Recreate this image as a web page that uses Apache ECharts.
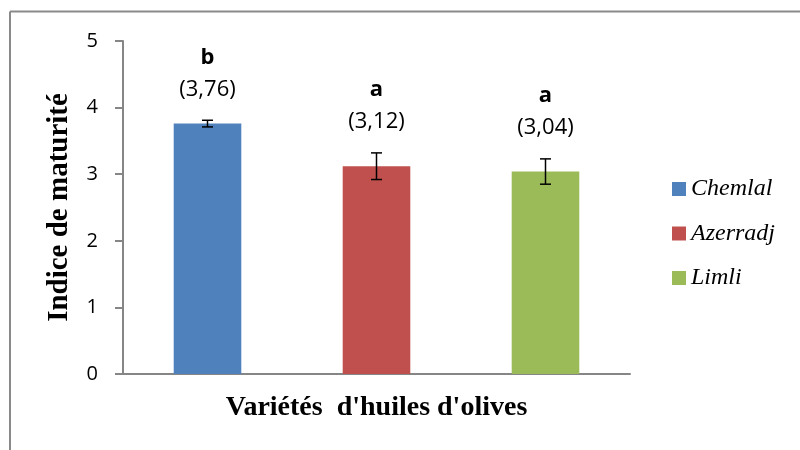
<!DOCTYPE html>
<html>
<head>
<meta charset="utf-8">
<script src="https://cdn.jsdelivr.net/npm/echarts@6/dist/echarts.min.js"></script>
<style>html,body{margin:0;padding:0;background:#fff}#c{width:800px;height:450px}</style>
</head>
<body>
<div id="c"></div>
<script>
const categories = ['Chemlal', 'Azerradj', 'Limli'];
const values = [3.76, 3.12, 3.04];
const errors = [0.05, 0.2, 0.19];
const letters = ['b', 'a', 'a'];
const valueLabels = ['(3,76)', '(3,12)', '(3,04)'];
const colors = ['#4F81BD', '#C0504D', '#9BBB59'];
const yTicks = [0, 1, 2, 3, 4, 5];

const serif = "Liberation Serif";
const sans = "Open Sans";

const chart = echarts.init(document.getElementById('c'));

const barSeries = categories.map((name, i) => ({
  name: name,
  type: 'bar',
  stack: 'all',
  barWidth: '40%',
  itemStyle: { color: colors[i] },
  data: categories.map((_, j) => j === i ? values[j] : '-'),
  z: 2
}));

const errSeries = {
  type: 'custom',
  silent: true,
  z: 5,
  data: values.map((v, i) => [i, v, errors[i]]),
  renderItem: function (params, api) {
    const i = api.value(0);
    const v = api.value(1);
    const e = api.value(2);
    const top = api.coord([i, v + e]);
    const bot = api.coord([i, v - e]);
    const hw = 5.5;
    const st = { stroke: '#000', lineWidth: 1.5 };
    return {
      type: 'group',
      children: [
        { type: 'line', shape: { x1: top[0], y1: top[1], x2: bot[0], y2: bot[1] }, style: st },
        { type: 'line', shape: { x1: top[0] - hw, y1: top[1], x2: top[0] + hw, y2: top[1] }, style: st },
        { type: 'line', shape: { x1: bot[0] - hw, y1: bot[1], x2: bot[0] + hw, y2: bot[1] }, style: st },
        { type: 'text', x: top[0], y: top[1] - 31, style: { text: valueLabels[i], font: '22px "Open Sans"', fill: '#000', align: 'center', verticalAlign: 'middle' } },
        { type: 'text', x: top[0], y: top[1] - 63, style: { text: letters[i], font: 'bold 22px "Open Sans"', fill: '#000', align: 'center', verticalAlign: 'middle' } }
      ]
    };
  }
};

chart.setOption({
  animation: false,
  backgroundColor: '#fff',
  grid: { left: 123, right: 170, top: 41, bottom: 76 },
  graphic: [
    { type: 'line', shape: { x1: 10, y1: 11.5, x2: 800, y2: 11.5 }, style: { stroke: '#8a8a8a', lineWidth: 2 } },
    { type: 'line', shape: { x1: 10, y1: 11.5, x2: 10, y2: 450 }, style: { stroke: '#8a8a8a', lineWidth: 2 } }
  ],
  legend: {
    orient: 'vertical',
    left: 672,
    top: 177,
    padding: 0,
    itemWidth: 14,
    itemHeight: 14,
    itemGap: 20.5,
    icon: 'rect',
    data: categories,
    selectedMode: false,
    textStyle: { fontFamily: serif, fontStyle: 'italic', fontSize: 24, color: '#000', padding: [0, 0, 0, 0] }
  },
  xAxis: {
    type: 'category',
    data: categories,
    name: "Variétés  d'huiles d'olives",
    nameLocation: 'middle',
    nameGap: 20,
    nameTextStyle: { fontFamily: serif, fontWeight: 'bold', fontSize: 28, color: '#000', verticalAlign: 'top' },
    axisLine: { lineStyle: { color: '#868686', width: 2 } },
    axisTick: { show: false },
    axisLabel: { show: false }
  },
  yAxis: {
    type: 'value',
    min: yTicks[0],
    max: yTicks[yTicks.length - 1],
    interval: 1,
    name: 'Indice de maturité',
    nameLocation: 'middle',
    nameGap: 49,
    nameTextStyle: { fontFamily: serif, fontWeight: 'bold', fontSize: 29, color: '#000', verticalAlign: 'bottom' },
    axisLine: { show: true, lineStyle: { color: '#868686', width: 2 } },
    axisTick: { show: true, length: 8, lineStyle: { color: '#868686', width: 2 } },
    axisLabel: { fontFamily: sans, fontSize: 20, color: '#000', margin: 25 },
    splitLine: { show: false }
  },
  series: barSeries.concat([errSeries])
});
</script>
</body>
</html>
